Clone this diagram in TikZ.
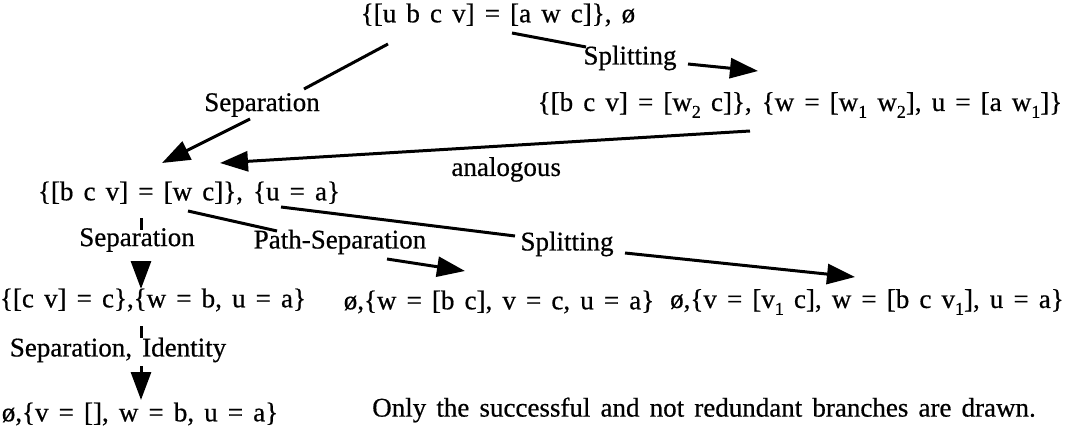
\documentclass[tikz,border=0pt]{standalone}
\usepackage{fontspec}
\setmainfont{Liberation Serif}[WordSpace=1.5, FakeBold=0.6]
\usetikzlibrary{arrows.meta}
\newcommand{\ix}[1]{\raisebox{-0.55ex}{\fontsize{9}{9}\selectfont #1}}

\begin{document}
\begin{tikzpicture}[x=0.5pt, y=-0.5pt,
        font=\fontsize{13.5}{16}\selectfont,
        term/.style={inner sep=0pt},
        rulelbl/.style={inner sep=0pt},
        link/.style={line width=1.5pt},
        arr/.style={link, -{Triangle[length=14pt,width=10pt]}}]

    \useasboundingbox (0,0) rectangle (1071,433);

    % ---------- constraint sets ----------
    \node[term] (root) at (498,15) {\{[u b c v] = [a w c]\}, ø};
    \node[term] (n2) at (800,105) {\{[b c v] = [w\ix{2} c]\}, \{w = [w\ix{1} w\ix{2}], u = [a w\ix{1}]\}};
    \node[term] (n3) at (189,193) {\{[b c v] = [w c]\}, \{u = a\}};
    \node[term] (n4) at (153,300) {\{[c v] = c\},\{w = b, u = a\}};
    \node[term] (n5) at (499,302) {ø,\{w = [b c], v = c, u = a\}};
    \node[term] (n6) at (867,302) {ø,\{v = [v\ix{1} c], w = [b c v\ix{1}], u = a\}};
    \node[term] (n7) at (140,414) {ø,\{v = [], w = b, u = a\}};

    % ---------- rule labels ----------
    \node[rulelbl] (lsepa) at (262,105) {Separation};
    \node[rulelbl] (lspl1) at (630,58) {Splitting};
    \node[rulelbl] (lsepb) at (137,240) {Separation};
    \node[rulelbl] (lpath) at (340,242) {Path-Separation};
    \node[rulelbl] (lspl2) at (567,244) {Splitting};
    \node[rulelbl] (lsepid) at (118,350) {Separation, Identity};

    % ---------- derivation steps ----------
    \draw[link] ([shift={(-110,29)}]root.center) -- ([shift={(42,-16)}]lsepa.center);
    \draw[arr] ([shift={(-12,14)}]lsepa.center) -- ([shift={(-27,-30)}]n3.center);

    \draw[link] ([shift={(14,18)}]root.center) -- ([shift={(-44,-11)}]lspl1.center);
    \draw[arr] ([shift={(58,6)}]lspl1.center) -- ([shift={(-42,-34)}]n2.center);

    \draw[arr] ([shift={(-50,26)}]n2.center) -- node[pos=0.46, below=5pt, inner sep=0pt] (lana) {analogous} ([shift={(31,-30)}]n3.center);

    \draw[link] ([shift={(-48,25)}]n3.center) -- ([shift={(4,-10)}]lsepb.center);
    \draw[arr] ([shift={(4,23)}]lsepb.center) -- ([shift={(-12,-11)}]n4.center);

    \draw[link] ([shift={(-1,18)}]n3.center) -- ([shift={(-63,-11)}]lpath.center);
    \draw[arr] ([shift={(47,17)}]lpath.center) -- ([shift={(-34,-31)}]n5.center);

    \draw[link] ([shift={(92,14)}]n3.center) -- ([shift={(-52,-8)}]lspl2.center);
    \draw[arr] ([shift={(58,9)}]lspl2.center) -- ([shift={(-12,-25)}]n6.center);

    \draw[link] ([shift={(-12,26)}]n4.center) -- ([shift={(23,-12)}]lsepid.center);
    \draw[arr] ([shift={(23,16)}]lsepid.center) -- ([shift={(1,-14)}]n7.center);

    % ---------- remark ----------
    \node[term] (note) at (704,410) {Only the successful and not redundant branches are drawn.};
\end{tikzpicture}
\end{document}
